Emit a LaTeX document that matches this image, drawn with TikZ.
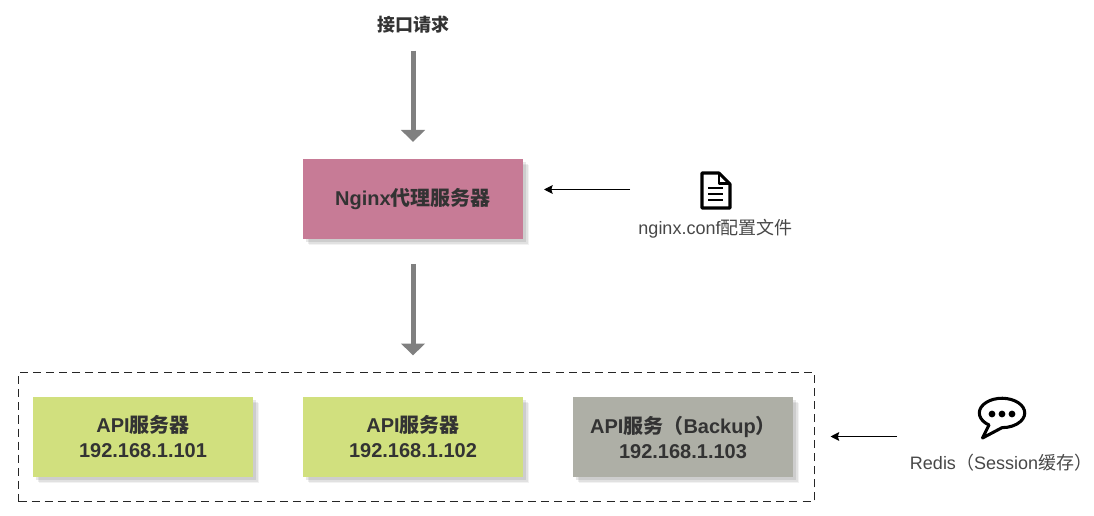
\documentclass[tikz,border=0pt]{standalone}
\usepackage{fontspec}
\setmainfont{Liberation Sans}
\newfontfamily\cjk{Noto Sans CJK SC}
\usetikzlibrary{positioning, arrows.meta, shadows}
\definecolor{textgray}{HTML}{333333}
\definecolor{pinkbox}{HTML}{C77B96}
\definecolor{greenbox}{HTML}{D1E07E}
\definecolor{graybox}{HTML}{AEAFA6}

\begin{document}
\begin{tikzpicture}[
        x=0.75pt, y=0.75pt,
        softshadow/.style={
            general shadow={shadow xshift=4.6pt, shadow yshift=-4.6pt, fill=black, opacity=0.05, inner sep=0pt},
            general shadow={shadow xshift=3.6pt, shadow yshift=-3.6pt, fill=black, opacity=0.07, inner sep=0pt},
            general shadow={shadow xshift=2.6pt, shadow yshift=-2.6pt, fill=black, opacity=0.09, inner sep=0pt},
            },
        box/.style={softshadow, minimum width=165pt, minimum height=60pt, inner sep=0pt, outer sep=0pt, align=center,
            font=\bfseries\fontsize{15}{18.75}\selectfont, text=textgray},
        proxy/.style={box, fill=pinkbox},
        api/.style={box, fill=greenbox},
        backup/.style={box, fill=graybox},
        group/.style={draw=black!85, dash pattern=on 6pt off 3.8pt, line width=0.75pt, minimum width=597pt, minimum height=96.75pt, inner sep=0pt, outer sep=0pt},
        caption/.style={font=\fontsize{13.5}{16}\selectfont, text=textgray!90, inner sep=0pt},
        flow/.style={-{Triangle[width=17.5pt, length=9pt]}, line width=3.75pt, draw=black!50},
        thin/.style={-{Stealth[width=6.5pt, length=6.5pt, inset=1pt]}, line width=0.75pt, black},
        icon/.style={line width=2.3pt, black, line join=round},
    ]
    \useasboundingbox (0,0) rectangle (1094,-516);

    % Proxy and servers
    \node[proxy] (nginx) at (413,-199) {Nginx{\cjk 代理服务器}};
    \node[api] (api1) at (143,-437) {API{\cjk 服务器}\\192.168.1.101};
    \node[api, right=37.5pt of api1] (api2) {API{\cjk 服务器}\\192.168.1.102};
    \node[backup, right=37.5pt of api2] (api3) {API{\cjk 服务（}Backup{\cjk ）}\\192.168.1.103};
    \node[group] (servers) at (416.5,-437) {};

    % Request label
    \node[font=\bfseries\fontsize{13.5}{16}\selectfont, text=textgray, inner sep=0pt] (request) at (413,-25) {\cjk 接口请求};

    % Captions
    \node[caption] (conf) at (715.5,-229) {nginx.conf{\cjk 配置文件}};
    \node[caption] (redis) at (1001,-463) {Redis{\cjk （}Session{\cjk 缓存）}};
    \coordinate (confFrom) at (630,-189.5);
    \coordinate (redisFrom) at (897,-436.5);

    % Document icon
    \draw[icon] (702,-173) -- (719,-173) -- (730,-184) -- (730,-208) -- (702,-208) -- cycle;
    \draw[icon, line width=1.8pt] (719,-173) -- (719,-183.5) -- (730,-183.5);
    \foreach \y in {188,194,200}
        \draw[icon, line width=2pt, line cap=butt] (708,-\y) -- (723,-\y);

    % Speech bubble icon
    \draw[icon] (989,-425) arc[start angle=-125, end angle=-450, x radius=22.7, y radius=14.7] -- (982.5,-438) -- cycle;
    \foreach \x in {992,1002,1012}
        \fill[black] (\x,-414) circle[radius=3.4];

    % Connectors
    \draw[flow, shorten <=12.5pt, shorten >=12.75pt] (request) -- (nginx);
    \draw[flow, shorten <=18.75pt, shorten >=12.75pt] (nginx.south) -- (nginx.south |- servers.north);
    \draw[thin, shorten >=15.75pt] (confFrom) -- (confFrom -| nginx.east);
    \draw[thin, shorten >=12pt] (redisFrom) -- (redisFrom -| servers.east);
\end{tikzpicture}
\end{document}
